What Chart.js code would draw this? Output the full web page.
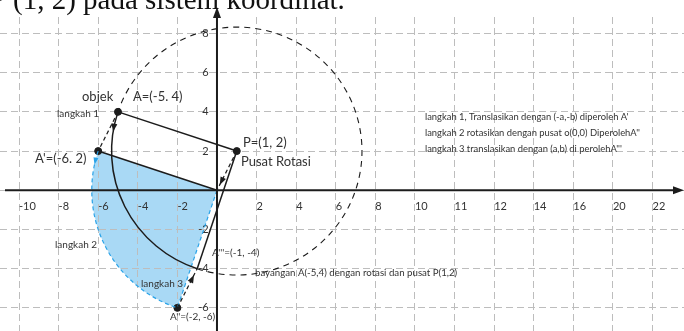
<!DOCTYPE html>
<html>
<head>
<meta charset="utf-8">
<script src="https://cdn.jsdelivr.net/npm/chart.js@4.4.1/dist/chart.umd.min.js"></script>
<style>
  html, body { margin: 0; padding: 0; background: #fff; }
</style>
</head>
<body>
<canvas id="rotasiChart" width="684" height="331"></canvas>
<script>
// titik-titik pada bidang koordinat
const pointNames = ['A', "A'", 'P', "A''", "A'''", 'O'];
const pointX = [-5, -6, 1, -2, -1, 0];
const pointY = [4, 2, 2, -6, -4, 0];

// garis grid dan label sumbu (label x memang tidak seragam di gambar asli)
const xGridValues = [-10, -8, -6, -4, -2, 0, 2, 4, 6, 8, 10, 12, 14, 16, 18, 20, 22];
const xTickLabels = ['-10', '-8', '-6', '-4', '-2', '', '2', '4', '6', '8', '10', '11', '12', '14', '16', '20', '22'];
const yGridValues = [8, 6, 4, 2, 0, -2, -4, -6];
const yTickLabels = ['8', '6', '4', '2', '', '-2', '-4', '-6'];

function pt(name) {
    const i = pointNames.indexOf(name);
    return { x: pointX[i], y: pointY[i] };
}

const INK = '#1c1c1c';
const TEXT = '#333';
const BLUE_FILL = '#a9d9f5';
const BLUE_LINE = '#2aa3e8';

function seg(a, b, color, width, dash) {
    return {
        data: [pt(a), pt(b)],
        showLine: true,
        borderColor: color,
        borderWidth: width,
        borderDash: dash || [],
        pointRadius: 0
    };
}

// ellipse params (pixel) for a circle of radius r around c
function circ(chart, c, r) {
    const sx = chart.scales.x, sy = chart.scales.y;
    return {
        cx: sx.getPixelForValue(c.x),
        cy: sy.getPixelForValue(c.y),
        rx: Math.abs(sx.getPixelForValue(c.x + r) - sx.getPixelForValue(c.x)),
        ry: Math.abs(sy.getPixelForValue(c.y + r) - sy.getPixelForValue(c.y))
    };
}

// CCW angle range from p1 to p2 around c
function angles(c, p1, p2) {
    const t1 = Math.atan2(p1.y - c.y, p1.x - c.x);
    let t2 = Math.atan2(p2.y - c.y, p2.x - c.x);
    while (t2 < t1) t2 += Math.PI * 2;
    return [t1, t2];
}

function arrowHead(ctx, x, y, dx, dy, len, half) {
    const m = Math.hypot(dx, dy);
    const ux = dx / m, uy = dy / m;
    ctx.beginPath();
    ctx.moveTo(x, y);
    ctx.lineTo(x - ux * len - uy * half, y - uy * len + ux * half);
    ctx.lineTo(x - ux * len + uy * half, y - uy * len - ux * half);
    ctx.closePath();
    ctx.fill();
}

function arcArrow(ctx, e, theta, len, half) {
    const x = e.cx + e.rx * Math.cos(theta);
    const y = e.cy - e.ry * Math.sin(theta);
    arrowHead(ctx, x, y, -e.rx * Math.sin(theta), -e.ry * Math.cos(theta), len, half);
}

function segArrow(chart, ctx, a, b, back, len, half) {
    const sx = chart.scales.x, sy = chart.scales.y;
    const x1 = sx.getPixelForValue(pt(a).x), y1 = sy.getPixelForValue(pt(a).y);
    const x2 = sx.getPixelForValue(pt(b).x), y2 = sy.getPixelForValue(pt(b).y);
    const m = Math.hypot(x2 - x1, y2 - y1);
    arrowHead(ctx, x2 - (x2 - x1) / m * back, y2 - (y2 - y1) / m * back, x2 - x1, y2 - y1, len, half);
}

const notes = [
    ['objek', 82, 97, 13],
    ['A=(-5. 4)', 133, 97, 13],
    ['langkah 1', 57, 114, 10],
    ["A'=(-6. 2)", 35, 159, 13],
    ['P=(1, 2)', 243, 143, 13],
    ['Pusat Rotasi', 241, 162, 13],
    ["langkah 1, Translasikan dengan (-a,-b) diperoleh A'", 425, 117, 9.4],
    ["langkah 2 rotasikan dengan pusat o(0,0) DiperolehA''", 425, 133, 9.4],
    ["langkah 3 translasikan dengan (a,b) di perolehA'''", 425, 149, 9.4],
    ['langkah 2', 55, 245, 10],
    ['langkah 3', 141, 284, 10],
    ["A'''=(-1, -4)", 212, 253, 10],
    ['bayangan A(-5,4) dengan rotasi dan pusat P(1,2)', 255, 273, 9.7],
    ["A''=(-2, -6)", 170, 317, 10]
];

const geometri = {
    id: 'geometri',
    beforeDraw(chart) {
        // daerah rotasi (juring biru) di bawah grid
        const ctx = chart.ctx;
        const O = pt('O'), A1 = pt("A'"), A2 = pt("A''");
        const r = Math.hypot(A1.x - O.x, A1.y - O.y);
        const e = circ(chart, O, r);
        const [t1, t2] = angles(O, A1, A2);
        ctx.save();
        ctx.beginPath();
        ctx.moveTo(e.cx, e.cy);
        ctx.ellipse(e.cx, e.cy, e.rx, e.ry, 0, -t1, -t2, true);
        ctx.closePath();
        ctx.fillStyle = BLUE_FILL;
        ctx.fill();
        ctx.restore();
    },
    afterDatasetsDraw(chart) {
        const ctx = chart.ctx;
        const O = pt('O'), A = pt('A'), A1 = pt("A'"), A2 = pt("A''"), A3 = pt("A'''"), P = pt('P');

        // tepi busur biru
        const eo = circ(chart, O, Math.hypot(A1.x, A1.y));
        const [o1, o2] = angles(O, A1, A2);
        ctx.save();
        ctx.strokeStyle = BLUE_LINE;
        ctx.lineWidth = 1.2;
        ctx.setLineDash([4, 3]);
        ctx.beginPath();
        ctx.ellipse(eo.cx, eo.cy, eo.rx, eo.ry, 0, -o1, -o2, true);
        ctx.stroke();
        ctx.restore();

        // lingkaran berpusat P
        const ep = circ(chart, P, Math.hypot(A.x - P.x, A.y - P.y));
        const [p1, p2] = angles(P, A, A3);
        ctx.save();
        ctx.strokeStyle = INK;
        ctx.lineWidth = 1.5;
        ctx.beginPath();
        ctx.ellipse(ep.cx, ep.cy, ep.rx, ep.ry, 0, -p1, -p2, true);
        ctx.stroke();
        ctx.lineWidth = 1.1;
        ctx.setLineDash([6, 5]);
        ctx.beginPath();
        ctx.ellipse(ep.cx, ep.cy, ep.rx, ep.ry, 0, -p2, -(p1 + Math.PI * 2), true);
        ctx.stroke();
        ctx.restore();

        // panah
        ctx.save();
        ctx.fillStyle = INK;
        arcArrow(ctx, ep, 171 * Math.PI / 180, 8, 3);
        segArrow(chart, ctx, 'P', 'O', 6, 8, 3);
        segArrow(chart, ctx, "A''", "A'''", 7, 8, 3);
        ctx.fillStyle = BLUE_LINE;
        arcArrow(ctx, eo, 168 * Math.PI / 180, 7, 2.5);
        ctx.restore();

        // sumbu koordinat dengan panah
        const sx = chart.scales.x, sy = chart.scales.y;
        const x0 = sx.getPixelForValue(0), y0 = sy.getPixelForValue(0);
        ctx.save();
        ctx.strokeStyle = INK;
        ctx.fillStyle = INK;
        ctx.lineWidth = 2;
        ctx.beginPath();
        ctx.moveTo(5, y0); ctx.lineTo(676, y0);
        ctx.moveTo(x0, 331); ctx.lineTo(x0, 16);
        ctx.stroke();
        arrowHead(ctx, 684, y0, 1, 0, 11, 4);
        arrowHead(ctx, x0, 7, 0, -1, 11, 4);
        ctx.restore();

        // teks keterangan
        ctx.save();
        ctx.fillStyle = TEXT;
        ctx.textBaseline = 'middle';
        notes.forEach(([t, x, y, s]) => {
            ctx.font = s + 'px Lato';
            ctx.fillText(t, x, y);
        });
        ctx.fillStyle = '#111';
        ctx.font = '29px "Liberation Serif"';
        ctx.textBaseline = 'alphabetic';
        ctx.fillText('P (1, 2) pada sistem koordinat.', 13 - ctx.measureText('P ').width, 9);
        ctx.restore();
    }
};

const tickFont = { family: 'Lato', size: 11 };

function noPad(s) {
    s.paddingLeft = s.paddingRight = s.paddingTop = s.paddingBottom = 0;
}

new Chart(document.getElementById('rotasiChart'), {
    type: 'scatter',
    data: {
        datasets: [
            seg('A', 'P', INK, 1.5),
            seg("A'", 'O', INK, 1.5),
            seg('P', "A'''", INK, 1.5),
            seg('A', "A'", INK, 1.2, [4, 3]),
            seg('P', 'O', INK, 1.2, [4, 3]),
            seg("A''", "A'''", INK, 1.2, [4, 3]),
            seg('O', "A''", BLUE_LINE, 1.2, [4, 3]),
            {
                data: ['A', "A'", 'P', "A''"].map(pt),
                showLine: false,
                pointRadius: 3.5,
                pointBackgroundColor: INK,
                pointBorderColor: INK
            }
        ]
    },
    options: {
        responsive: false,
        animation: false,
        layout: { autoPadding: false, padding: { top: 17, left: 0, right: 0, bottom: 0 } },
        plugins: { legend: { display: false }, tooltip: { enabled: false } },
        scales: {
            x: {
                type: 'linear',
                min: -10.96,
                max: 23.59,
                position: { y: 0 },
                afterBuildTicks: s => { s.ticks = xGridValues.map(v => ({ value: v })); },
                afterFit: s => { s.height = 0; noPad(s); },
                ticks: {
                    callback: (v, i) => xTickLabels[i],
                    align: 'start',
                    padding: 10,
                    autoSkip: false,
                    maxRotation: 0,
                    color: TEXT,
                    font: tickFont
                },
                grid: { color: '#bdbdbd', lineWidth: 1, drawTicks: false },
                border: { display: false, dash: [7, 4] }
            },
            y: {
                type: 'linear',
                min: -7.18,
                max: 8.84,
                position: { x: 0 },
                afterBuildTicks: s => { s.ticks = yGridValues.map(v => ({ value: v })); },
                afterFit: s => { s.width = 0; noPad(s); },
                ticks: {
                    // label digeser ke kiri sumbu dengan spasi di belakang
                    callback: (v, i) => yTickLabels[i] ? yTickLabels[i] + '\u2002 ' : '',
                    padding: 0,
                    autoSkip: false,
                    color: TEXT,
                    font: tickFont
                },
                grid: { color: '#bdbdbd', lineWidth: 1, drawTicks: false },
                border: { display: false, dash: [7, 4] }
            }
        }
    },
    plugins: [geometri]
});
</script>
</body>
</html>
